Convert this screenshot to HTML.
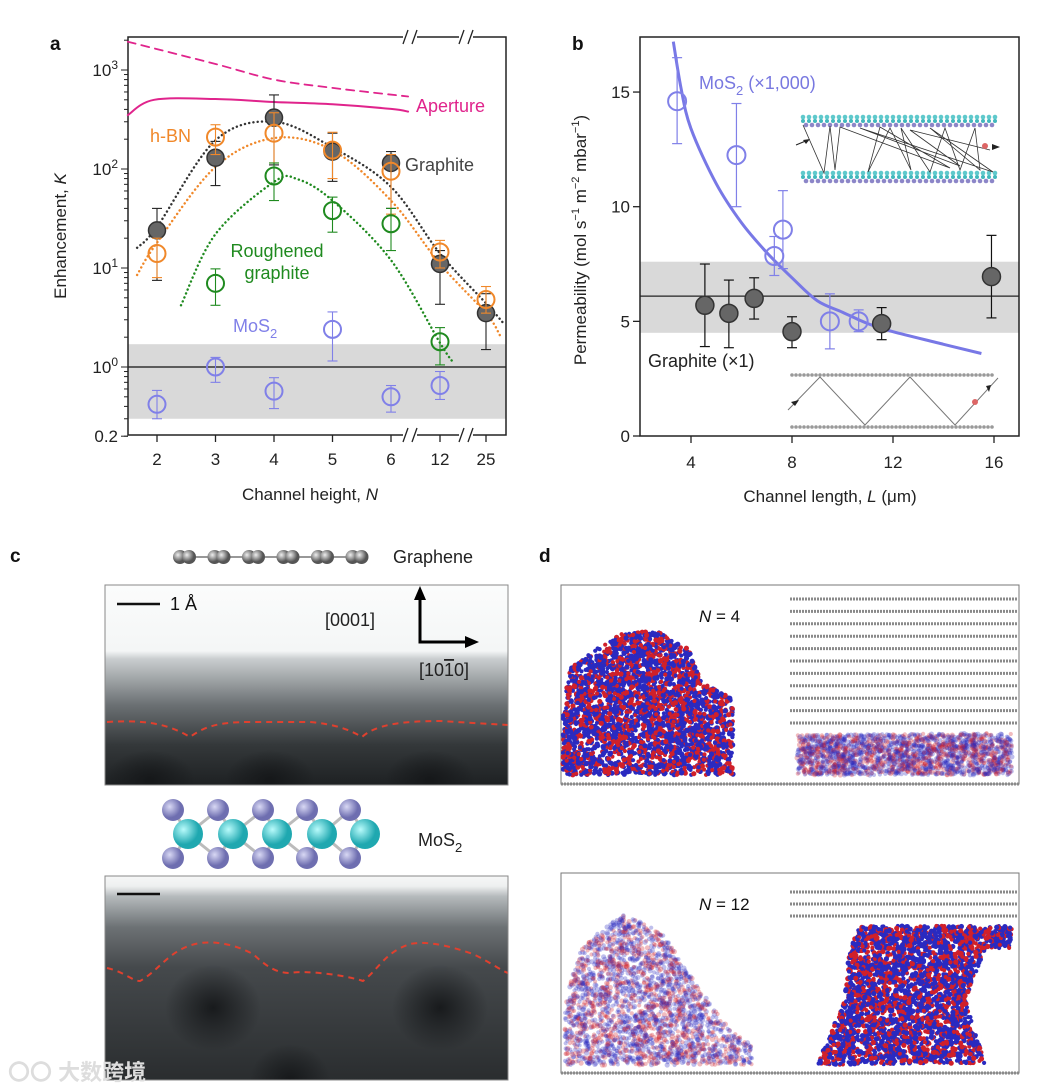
<!DOCTYPE html>
<html><head><meta charset="utf-8"><style>
html,body{margin:0;padding:0;background:#fff}
svg{display:block;font-family:"Liberation Sans","Noto Sans CJK SC",sans-serif}
</style></head><body>
<svg id="fig" width="1037" height="1090" viewBox="0 0 1037 1090" xmlns="http://www.w3.org/2000/svg">
<defs>
<linearGradient id="gTop" x1="0" y1="0" x2="0" y2="1">
<stop offset="0" stop-color="#fbfcfc"/><stop offset="0.33" stop-color="#f4f6f6"/><stop offset="0.37" stop-color="#c9cdcf"/><stop offset="0.6" stop-color="#6b7073"/><stop offset="0.8" stop-color="#34383a"/><stop offset="1" stop-color="#1e2123"/></linearGradient>
<linearGradient id="gBot" x1="0" y1="0" x2="0" y2="1">
<stop offset="0" stop-color="#f6f7f7"/><stop offset="0.05" stop-color="#eef0f0"/><stop offset="0.1" stop-color="#b5babc"/><stop offset="0.25" stop-color="#6d7275"/><stop offset="0.45" stop-color="#45494c"/><stop offset="1" stop-color="#2a2d2f"/></linearGradient>
<radialGradient id="blob"><stop offset="0" stop-color="#141618" stop-opacity="0.9"/><stop offset="1" stop-color="#141618" stop-opacity="0"/></radialGradient>
<radialGradient id="gC" cx="0.35" cy="0.35"><stop offset="0" stop-color="#eee"/><stop offset="1" stop-color="#555"/></radialGradient>
<radialGradient id="gS" cx="0.35" cy="0.35"><stop offset="0" stop-color="#d8d8f4"/><stop offset="1" stop-color="#6e6eb0"/></radialGradient>
<radialGradient id="gMo" cx="0.35" cy="0.35"><stop offset="0" stop-color="#b8fbfb"/><stop offset="1" stop-color="#1fa8b0"/></radialGradient>
<clipPath id="clipC1"><rect x="105" y="585" width="403" height="200"/></clipPath>
<clipPath id="clipC2"><rect x="105" y="876" width="403" height="204"/></clipPath>
</defs>
<g id="pa"></g>
<g id="pb"></g>
<g id="pc"></g>
<g id="pd"></g>
</svg>
<script>
// ---------- Panel a data ----------
const catLabels = ["2","3","4","5","6","12","25"];
const graphiteK = [24,130,330,150,115,11,3.5];
const graphiteLo = [7.5,68,110,75,40,4.3,1.5];
const graphiteHi = [40,190,560,230,150,15,5.5];
const hbnK = [14,210,230,155,95,14.5,4.8];
const hbnLo = [8,140,115,80,35,10,3.5];
const hbnHi = [20,280,370,235,140,19,6.5];
const roughIdx = [1,2,3,4,5];
const roughK = [7,85,38,28,1.8];
const roughLo = [4.2,48,23,15,1.05];
const roughHi = [9.8,115,52,40,2.5];
const mosIdx = [0,1,2,3,4,5];
const mosK = [0.42,1.0,0.57,2.4,0.5,0.65];
const mosLo = [0.3,0.7,0.38,1.15,0.35,0.47];
const mosHi = [0.58,1.25,0.78,3.6,0.65,0.9];
const fitGX = [-0.34,0,1,2,3,4,5,6,6.37];
const fitGK = [16,26,195,300,165,66,14,4.4,2.8];
const fitHX = [-0.34,0,1,2,3,4,5,6,6.3];
const fitHK = [8.5,18,105,205,155,48,11,3.5,2.1];
const fitRX = [0.41,1,2,2.4,3,4,5,5.28];
const fitRK = [4.2,22,74,79,48,12,1.75,1.12];
const apSolidX = [-0.5,-0.05,1,2,3,4,4.35];
const apSolidK = [350,500,510,475,450,405,380];
const apDashX = [-0.5,1,2,3,4.35];
const apDashK = [1930,1150,800,660,540];
const bandA = [0.3,1.7];
const yTicksA = [0.2,1,10,100,1000];
// ---------- Panel b data ----------
const gL = [4.55,5.5,6.5,8.0,11.55,15.9];
const gP = [5.7,5.35,6.0,4.55,4.9,6.95];
const gPlo = [3.9,3.85,5.1,3.85,4.2,5.15];
const gPhi = [7.5,6.8,6.9,5.2,5.6,8.75];
const mL = [3.45,5.8,7.3,7.64,9.5,10.64];
const mP = [14.6,12.25,7.85,9.0,5.0,5.0];
const mPlo = [12.75,10.0,7.0,7.3,3.8,4.55];
const mPhi = [16.5,14.5,8.7,10.7,6.2,5.5];
const fitL = [3.3,3.6,4,5,6,7,8,9,10,11,12,14,15.5];
const fitP = [17.2,15.2,13.4,11.0,9.3,8.0,6.9,5.9,5.4,4.9,4.55,4.0,3.6];
const bandB = [4.5,7.6];
const lineB = 6.1;
const xTicksB = [4,8,12,16];
const yTicksB = [0,5,10,15];

const NS="http://www.w3.org/2000/svg";
function mk(parent,tag,attrs,text){const e=document.createElementNS(NS,tag);for(const k in attrs)e.setAttribute(k,attrs[k]);if(text!==undefined)e.textContent=text;parent.appendChild(e);return e;}
function spline(pts){let d="M"+pts[0][0].toFixed(1)+","+pts[0][1].toFixed(1);for(let i=0;i<pts.length-1;i++){const p0=pts[Math.max(0,i-1)],p1=pts[i],p2=pts[i+1],p3=pts[Math.min(pts.length-1,i+2)];const c1=[p1[0]+(p2[0]-p0[0])/6,p1[1]+(p2[1]-p0[1])/6],c2=[p2[0]-(p3[0]-p1[0])/6,p2[1]-(p3[1]-p1[1])/6];d+="C"+c1.map(v=>v.toFixed(1))+" "+c2.map(v=>v.toFixed(1))+" "+p2[0].toFixed(1)+","+p2[1].toFixed(1);}return d;}

// ===== Panel a =====
const A=document.getElementById('pa');
const xa=i=> i<=4 ? 157+58.5*i : (i<=5 ? 391+49*(i-4) : 440+46*(i-5));
const ya=k=> 367-99*Math.log10(k);
const AX0=128,AX1=506,AY0=37,AY1=435;
let e;
e=mk(A,'rect',{x:AX0,y:ya(bandA[1]),width:AX1-AX0,height:ya(bandA[0])-ya(bandA[1]),fill:'#d9d9d9'});


e=mk(A,'line',{x1:AX0,x2:AX1,y1:ya(1),y2:ya(1),stroke:'#111','stroke-width':1.3});


e=mk(A,'rect',{x:AX0,y:AY0,width:AX1-AX0,height:AY1-AY0,fill:'none',stroke:'#222','stroke-width':1.5});


[410,466].forEach(bx=>{[AY0,AY1].forEach(by=>{
 mk(A,'rect',{x:bx-7,y:by-3,width:14,height:6,fill:'#fff'});
 mk(A,'line',{x1:bx-7,y1:by+7,x2:bx-2,y2:by-7,stroke:'#222','stroke-width':1.3});
 e=mk(A,'line',{x1:bx+2,y1:by+7,x2:bx+7,y2:by-7,stroke:'#222','stroke-width':1.3});
 
 
});});
for(let dec=-1;dec<=3;dec++){for(let m=1;m<10;m++){const v=m*Math.pow(10,dec);if(v<0.2||v>2000)continue;const y=ya(v);mk(A,'line',{x1:AX0-(m===1?7:4),x2:AX0,y1:y,y2:y,stroke:'#222','stroke-width':1});}}
yTicksA.forEach(v=>{const y=ya(v);const t=mk(A,'text',{x:AX0-10,y:y+6,'text-anchor':'end','font-size':17,fill:'#222'});
 
 
 if(v===0.2){t.textContent='0.2';}else{const p=Math.round(Math.log10(v));mk(t,'tspan',{},'10');mk(t,'tspan',{dy:-7,'font-size':12},String(p));}
 if(v===0.2) mk(A,'line',{x1:AX0-7,x2:AX0,y1:y,y2:y,stroke:'#222'});
});
catLabels.forEach((lab,i)=>{const x=xa(i);mk(A,'line',{x1:x,x2:x,y1:AY1,y2:AY1+7,stroke:'#222','stroke-width':1.3});
 e=mk(A,'text',{x:x,y:AY1+30,'text-anchor':'middle','font-size':17,fill:'#222'},lab);
 
 });
e=mk(A,'text',{x:310,y:500,'text-anchor':'middle','font-size':17,fill:'#222'});


mk(e,'tspan',{},'Channel height, ');mk(e,'tspan',{'font-style':'italic'},'N');
e=mk(A,'text',{x:0,y:0,transform:'translate(66,236) rotate(-90)','text-anchor':'middle','font-size':17,fill:'#222'});


mk(e,'tspan',{},'Enhancement, ');mk(e,'tspan',{'font-style':'italic'},'K');
e=mk(A,'text',{x:50,y:50,'font-size':19,'font-weight':'bold',fill:'#111'},'a');


function curveA(xs,ks,col,dash,w,name){const p=mk(A,'path',{d:spline(xs.map((x,i)=>[xa(x),ya(ks[i])])),fill:'none',stroke:col,'stroke-width':w,'stroke-dasharray':dash,'stroke-linecap':'round'});
 
 }
curveA(apDashX,apDashK,'#e0248c','8 6',1.8,'aperture-dashed-line');
curveA(apSolidX,apSolidK,'#e0248c','none',2,'aperture-line');
curveA(fitGX,fitGK,'#333','0.1 4.2',2.4,'graphite-fit');
curveA(fitHX,fitHK,'#f0882a','0.1 4.2',2.4,'hbn-fit');
curveA(fitRX,fitRK,'#1f8a1f','0.1 4.2',2.4,'roughened-fit');
function errA(x,lo,hi,col){mk(A,'line',{x1:x,x2:x,y1:ya(lo),y2:ya(hi),stroke:col,'stroke-width':1.1});[lo,hi].forEach(v=>mk(A,'line',{x1:x-5,x2:x+5,y1:ya(v),y2:ya(v),stroke:col,'stroke-width':1.1}));}
graphiteK.forEach((k,i)=>{errA(xa(i),graphiteLo[i],graphiteHi[i],'#222');const c=mk(A,'circle',{cx:xa(i),cy:ya(k),r:8.5,fill:'#666',stroke:'#333','stroke-width':1.5});
 
 });
hbnK.forEach((k,i)=>{errA(xa(i),hbnLo[i],hbnHi[i],'#f0882a');const c=mk(A,'circle',{cx:xa(i),cy:ya(k),r:8.5,fill:'none',stroke:'#f0882a','stroke-width':2});
 
 });
roughK.forEach((k,j)=>{const x=xa(roughIdx[j]);errA(x,roughLo[j],roughHi[j],'#1f8a1f');const c=mk(A,'circle',{cx:x,cy:ya(k),r:8.5,fill:'none',stroke:'#1f8a1f','stroke-width':2});
 
 });
mosK.forEach((k,j)=>{const x=xa(mosIdx[j]);errA(x,mosLo[j],mosHi[j],'#8080e8');const c=mk(A,'circle',{cx:x,cy:ya(k),r:8.5,fill:'none',stroke:'#8080e8','stroke-width':2});
 
 });
function lab(p,x,y,txt,col,name,anchor){const t=mk(p,'text',{x:x,y:y,'font-size':18,fill:col,'text-anchor':anchor||'start'},txt);
 
 return t;}
lab(A,416,112,'Aperture','#e0248c','aperture-label');
lab(A,150,142,'h-BN','#f0882a','hbn-label');
lab(A,405,171,'Graphite','#444','graphite-label');
lab(A,277,257,'Roughened','#1f8a1f','roughened-label','middle');
lab(A,277,279,'graphite','#1f8a1f','roughened-label-2','middle');
e=lab(A,233,332,'MoS','#8080e8','mos2-label');mk(e,'tspan',{dy:6,'font-size':13},'2');

// ===== Panel b =====
const B=document.getElementById('pb');
const xb=L=>691+25.25*(L-4), yb=P=>436-22.93*P;
const BX0=640,BX1=1019,BY0=37,BY1=436;
e=mk(B,'rect',{x:BX0,y:yb(bandB[1]),width:BX1-BX0,height:yb(bandB[0])-yb(bandB[1]),fill:'#d9d9d9'});


e=mk(B,'line',{x1:BX0,x2:BX1,y1:yb(lineB),y2:yb(lineB),stroke:'#222','stroke-width':1.3});


e=mk(B,'rect',{x:BX0,y:BY0,width:BX1-BX0,height:BY1-BY0,fill:'none',stroke:'#222','stroke-width':1.5});


xTicksB.forEach(v=>{mk(B,'line',{x1:xb(v),x2:xb(v),y1:BY1,y2:BY1+7,stroke:'#222','stroke-width':1.3});
 e=mk(B,'text',{x:xb(v),y:BY1+32,'text-anchor':'middle','font-size':17,fill:'#222'},String(v));
 
 });
yTicksB.forEach(v=>{mk(B,'line',{x1:BX0-7,x2:BX0,y1:yb(v),y2:yb(v),stroke:'#222','stroke-width':1.3});
 e=mk(B,'text',{x:BX0-10,y:yb(v)+6,'text-anchor':'end','font-size':17,fill:'#222'},String(v));
 
 });
e=mk(B,'text',{x:830,y:502,'text-anchor':'middle','font-size':17,fill:'#222'});


mk(e,'tspan',{},'Channel length, ');mk(e,'tspan',{'font-style':'italic'},'L');mk(e,'tspan',{},' (\u03bcm)');
e=mk(B,'text',{x:0,y:0,transform:'translate(586,240) rotate(-90)','text-anchor':'middle','font-size':17,fill:'#222'});


mk(e,'tspan',{},'Permeability (mol s');mk(e,'tspan',{dy:-7,'font-size':11},'\u22121');mk(e,'tspan',{dy:7},' m');mk(e,'tspan',{dy:-7,'font-size':11},'\u22122');mk(e,'tspan',{dy:7},' mbar');mk(e,'tspan',{dy:-7,'font-size':11},'\u22121');mk(e,'tspan',{dy:7},')');
e=mk(B,'text',{x:572,y:50,'font-size':19,'font-weight':'bold',fill:'#111'},'b');


function atomRow(p,x0,x1,y,step,r,fill){for(let x=x0;x<=x1;x+=step)mk(p,'circle',{cx:x,cy:y,r:r,fill:fill});}
const ins1=mk(B,'g',{});


[[117,125],[173,181]].forEach(([a,b])=>{atomRow(ins1,803,995,a,6,2.3,'#5fc9cc');atomRow(ins1,806,995,b,6,2.3,'#8c86c8');atomRow(ins1,803,995,(a+b)/2,6,2,'#42b8bd');});
mk(ins1,'polyline',{points:'803,125 824,173 830,126 835,170 840,127 950,168 880,127 868,172 890,128 911,170 901,128 930,172 945,128 960,170 975,128 980,170 930,128 993,172 860,128 960,166 910,130 990,150',fill:'none',stroke:'#333','stroke-width':0.8});
mk(ins1,'line',{x1:796,y1:145,x2:808,y2:140,stroke:'#222','stroke-width':1});
mk(ins1,'polygon',{points:'810,139 803,140 806,144',fill:'#222'});
mk(ins1,'circle',{cx:985,cy:146,r:3,fill:'#d66'});
mk(ins1,'polygon',{points:'1000,147 992,144 992,150',fill:'#222'});
const ins2=mk(B,'g',{});


atomRow(ins2,792,993,375,4,1.8,'#999');atomRow(ins2,792,993,427,4,1.8,'#999');
mk(ins2,'polyline',{points:'788,410 820,377 865,425 910,377 955,425 998,378',fill:'none',stroke:'#777','stroke-width':1});
mk(ins2,'polygon',{points:'799,400 791,402 795,406',fill:'#222'});
mk(ins2,'polygon',{points:'991,385 986,386 989,392',fill:'#222'});
mk(ins2,'circle',{cx:975,cy:402,r:3,fill:'#d66'});
e=mk(B,'path',{d:spline(fitL.map((L,i)=>[xb(L),yb(fitP[i])])),fill:'none',stroke:'#7878e6','stroke-width':3});


function errB(x,lo,hi,col){mk(B,'line',{x1:x,x2:x,y1:yb(lo),y2:yb(hi),stroke:col,'stroke-width':1.2});[lo,hi].forEach(v=>mk(B,'line',{x1:x-5,x2:x+5,y1:yb(v),y2:yb(v),stroke:col,'stroke-width':1.2}));}
gL.forEach((L,i)=>{errB(xb(L),gPlo[i],gPhi[i],'#111');const c=mk(B,'circle',{cx:xb(L),cy:yb(gP[i]),r:9,fill:'#666',stroke:'#333','stroke-width':1.5});
 
 });
mL.forEach((L,i)=>{errB(xb(L),mPlo[i],mPhi[i],'#8080e8');const c=mk(B,'circle',{cx:xb(L),cy:yb(mP[i]),r:9,fill:'none',stroke:'#8080e8','stroke-width':2});
 
 });
e=lab(B,699,89,'MoS','#7878e0','mos2-legend');mk(e,'tspan',{dy:6,'font-size':13},'2');mk(e,'tspan',{dy:-6},' (\u00d71,000)');
lab(B,648,367,'Graphite (\u00d71)','#222','graphite-legend');

// ===== Panel c =====
const C=document.getElementById('pc');
e=mk(C,'text',{x:10,y:562,'font-size':19,'font-weight':'bold',fill:'#111'},'c');


const gr=mk(C,'g',{});


mk(gr,'line',{x1:176,x2:364,y1:557,y2:557,stroke:'#777','stroke-width':1.5});
for(let i=0;i<6;i++){const bx=180+i*34.5;[0,9].forEach(o=>mk(gr,'circle',{cx:bx+o,cy:557,r:7,fill:'url(#gC)'}));}
lab(C,393,563,'Graphene','#222','graphene-label');
const ci1=mk(C,'g',{'clip-path':'url(#clipC1)'});


mk(ci1,'rect',{x:105,y:585,width:403,height:200,fill:'url(#gTop)'});
[[150,780],[270,780],[430,780]].forEach(([x,y])=>mk(ci1,'ellipse',{cx:x,cy:y,rx:45,ry:30,fill:'url(#blob)'}));
mk(ci1,'path',{d:'M107,722 C140,720 165,722 190,737 C205,726 220,722 250,722 L310,722 C335,724 350,730 362,737 C375,725 400,721 440,721 L508,725',fill:'none',stroke:'#e0402e','stroke-width':2,'stroke-dasharray':'6 5'});
mk(C,'rect',{x:105,y:585,width:403,height:200,fill:'none',stroke:'#888','stroke-width':1});
mk(C,'line',{x1:117,x2:160,y1:604,y2:604,stroke:'#111','stroke-width':2.5});
lab(C,170,610,'1 \u00c5','#111','scale-bar-label');
lab(C,325,626,'[0001]','#222','direction-0001');
mk(C,'polyline',{points:'420,593 420,642 470,642',fill:'none',stroke:'#000','stroke-width':3});
mk(C,'polygon',{points:'420,586 414,600 426,600',fill:'#000'});
mk(C,'polygon',{points:'479,642 465,636 465,648',fill:'#000'});
e=lab(C,419,676,'[10','#222','direction-1010');mk(e,'tspan',{'text-decoration':'overline'},'1');mk(e,'tspan',{},'0]');
const mo=mk(C,'g',{});


const sx=[173,218,263,307,350],mx=[188,233,277,322,365];
sx.forEach((x,i)=>{mk(mo,'line',{x1:x,y1:810,x2:mx[i],y2:834,stroke:'#bbb','stroke-width':3});mk(mo,'line',{x1:x,y1:858,x2:mx[i],y2:834,stroke:'#bbb','stroke-width':3});if(i>0){mk(mo,'line',{x1:x,y1:810,x2:mx[i-1],y2:834,stroke:'#bbb','stroke-width':3});mk(mo,'line',{x1:x,y1:858,x2:mx[i-1],y2:834,stroke:'#bbb','stroke-width':3});}});
sx.forEach(x=>{mk(mo,'circle',{cx:x,cy:810,r:11,fill:'url(#gS)'});mk(mo,'circle',{cx:x,cy:858,r:11,fill:'url(#gS)'});});
mx.forEach(x=>mk(mo,'circle',{cx:x,cy:834,r:15,fill:'url(#gMo)'}));
e=lab(C,418,846,'MoS','#222','mos2-structure-label');mk(e,'tspan',{dy:6,'font-size':13},'2');
const ci2=mk(C,'g',{'clip-path':'url(#clipC2)'});


mk(ci2,'rect',{x:105,y:876,width:403,height:204,fill:'url(#gBot)'});
[[213,1008,48],[440,1008,48],[290,1080,40]].forEach(([x,y,r])=>mk(ci2,'ellipse',{cx:x,cy:y,rx:r,ry:r*0.9,fill:'url(#blob)'}));
mk(ci2,'path',{d:'M107,968 C125,972 132,981 140,981 C160,970 170,948 200,943 C225,940 245,950 253,954 C265,965 275,973 290,973 C305,970 345,975 363,981 C378,970 385,952 410,944 C430,940 455,948 473,954 C490,962 500,970 508,973',fill:'none',stroke:'#e0402e','stroke-width':2,'stroke-dasharray':'6 5'});
mk(C,'rect',{x:105,y:876,width:403,height:204,fill:'none',stroke:'#888','stroke-width':1});
mk(C,'line',{x1:117,x2:160,y1:894,y2:894,stroke:'#111','stroke-width':2.5});
e=mk(C,'text',{x:8,y:1080,'font-size':22,fill:'#ddd','font-weight':'bold'},'\u3007\u3007 大数跨境');



// ===== Panel d =====
const D=document.getElementById('pd');
e=mk(D,'text',{x:539,y:562,'font-size':19,'font-weight':'bold',fill:'#111'},'d');


let seed=7;function rnd(){seed=(seed*16807)%2147483647;return seed/2147483647;}
function inPoly(x,y,pts){let c=false;for(let i=0,j=pts.length-1;i<pts.length;j=i++){const [xi,yi]=pts[i],[xj,yj]=pts[j];if(((yi>y)!=(yj>y))&&(x<(xj-xi)*(y-yi)/(yj-yi)+xi))c=!c;}return c;}
function cloud(p,poly,n,op){const xs=poly.map(q=>q[0]),ys=poly.map(q=>q[1]);const x0=Math.min(...xs),x1=Math.max(...xs),y0=Math.min(...ys),y1=Math.max(...ys);let k=0,t=0;while(k<n&&t<n*20){t++;const x=x0+rnd()*(x1-x0),y=y0+rnd()*(y1-y0);if(!inPoly(x,y,poly))continue;k++;mk(p,'circle',{cx:x.toFixed(1),cy:y.toFixed(1),r:rnd()<0.35?2.6:2.1,fill:rnd()<0.38?'#d0202a':'#2a2ac0','fill-opacity':op});}}
function layers(p,x0,x1,ys){ys.forEach(y=>{mk(p,'line',{x1:x0,x2:x1,y1:y,y2:y,stroke:'#8a8a8a','stroke-width':3,'stroke-dasharray':'2 1'});});}
function box(y0,y1,label,name){const g=mk(D,'g',{});
 
 
 mk(g,'rect',{x:561,y:y0,width:458,height:y1-y0,fill:'#fff',stroke:'#777','stroke-width':1});
 layers(g,561,1019,[y1]);
 const t=mk(g,'text',{x:699,y:y0+37,'font-size':17,fill:'#111'});mk(t,'tspan',{'font-style':'italic'},'N');mk(t,'tspan',{},' = '+label);
 return g;}
const d1=box(585,784,'4','snapshot-n4');
layers(d1,790,1017,[599,611.4,623.8,636.2,648.6,661,673.4,685.8,698.2,710.6,723]);
cloud(d1,[[563,775],[563,712],[570,668],[595,650],[625,632],[660,632],[690,650],[700,680],[733,700],[733,775]],3000,1);
cloud(d1,[[797,775],[797,735],[1012,733],[1012,775]],2000,0.3);
const d2=box(873,1073,'12','snapshot-n12');
layers(d2,790,1017,[892,904,916]);
cloud(d2,[[565,1065],[565,1000],[580,950],[620,913],[660,930],[700,990],[730,1030],[752,1045],[752,1065]],2400,0.3);
cloud(d2,[[817,1065],[845,1000],[848,960],[858,926],[1012,926],[1010,948],[985,950],[965,1000],[985,1063]],3000,1);
</script>
</body></html>
